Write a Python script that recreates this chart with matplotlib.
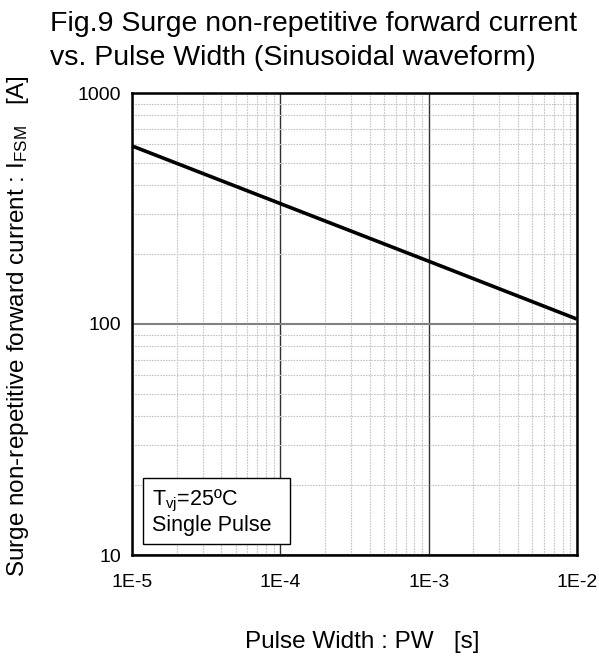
import numpy as np
import matplotlib
matplotlib.use('Agg')
import matplotlib.pyplot as plt
from matplotlib.patches import Rectangle
from matplotlib.ticker import LogLocator, NullFormatter, FixedLocator

plt.rcParams['font.family'] = ['Liberation Sans', 'DejaVu Sans']
plt.rcParams['mathtext.fontset'] = 'custom'
plt.rcParams['mathtext.rm'] = 'Liberation Sans'
plt.rcParams['mathtext.it'] = 'Liberation Sans'

# values
pulse_width = [1e-5, 1e-4, 1e-3, 1e-2]
i_fsm = [590, 332, 187, 105]
x_ticks = [1e-5, 1e-4, 1e-3, 1e-2]
x_labels = ['1E-5', '1E-4', '1E-3', '1E-2']
y_ticks = [10, 100, 1000]
y_labels = ['10', '100', '1000']

fig = plt.figure(figsize=(5.99, 6.6), dpi=100)
ax = fig.add_axes([132/599, 1 - 555/660, 445/599, 462/660])

ax.set_xscale('log')
ax.set_yscale('log')
ax.set_xlim(1e-5, 1e-2)
ax.set_ylim(10, 1000)

# grid
ax.xaxis.set_major_locator(FixedLocator(x_ticks))
ax.yaxis.set_major_locator(FixedLocator(y_ticks))
ax.xaxis.set_minor_locator(LogLocator(base=10, subs=np.arange(2, 10)))
ax.yaxis.set_minor_locator(LogLocator(base=10, subs=np.arange(2, 10)))
ax.xaxis.set_minor_formatter(NullFormatter())
ax.yaxis.set_minor_formatter(NullFormatter())
ax.set_xticklabels(x_labels)
ax.set_yticklabels(y_labels)
ax.grid(True, which='minor', color='#c4c4c4', linestyle=(0, (1.5, 1)), linewidth=0.8)
ax.grid(True, which='major', axis='x', color='#303030', linestyle='-', linewidth=1.0)
ax.grid(True, which='major', axis='y', color='#808080', linestyle='-', linewidth=1.5)
ax.tick_params(which='both', length=0, labelsize=14)
ax.tick_params(axis='x', pad=14)
ax.tick_params(axis='y', pad=8)

for sp in ax.spines.values():
    sp.set_linewidth(1.8)
    sp.set_color('black')

ax.plot(pulse_width, i_fsm, color='black', linewidth=2.6, solid_capstyle='butt', clip_on=False, zorder=5)

fig.text(362/599, 1 - 642/660, 'Pulse Width : PW   [s]', fontsize=17.5, ha='center', va='center')
fig.text(18/599, 1 - 326/660, 'Surge non-repetitive forward current : I$_{\\rm FSM}$   [A]',
         fontsize=17.5, ha='center', va='center', rotation=90)

fig.text(50/599, 1 - 11/660, 'Fig.9 Surge non-repetitive forward current\nvs. Pulse Width (Sinusoidal waveform)',
         fontsize=20.5, ha='left', va='top', linespacing=1.42)

# condition box
ax.add_patch(Rectangle((0.0247, 0.0238), 0.331, 0.143, transform=ax.transAxes,
                       facecolor='white', edgecolor='black', linewidth=1.0, zorder=6))
ax.text(0.045, 0.093, 'T$_{\\rm vj}$=25ºC\nSingle Pulse', transform=ax.transAxes, fontsize=15.5,
        ha='left', va='center', linespacing=1.1, zorder=7)

fig.savefig('out.png', dpi=100)
